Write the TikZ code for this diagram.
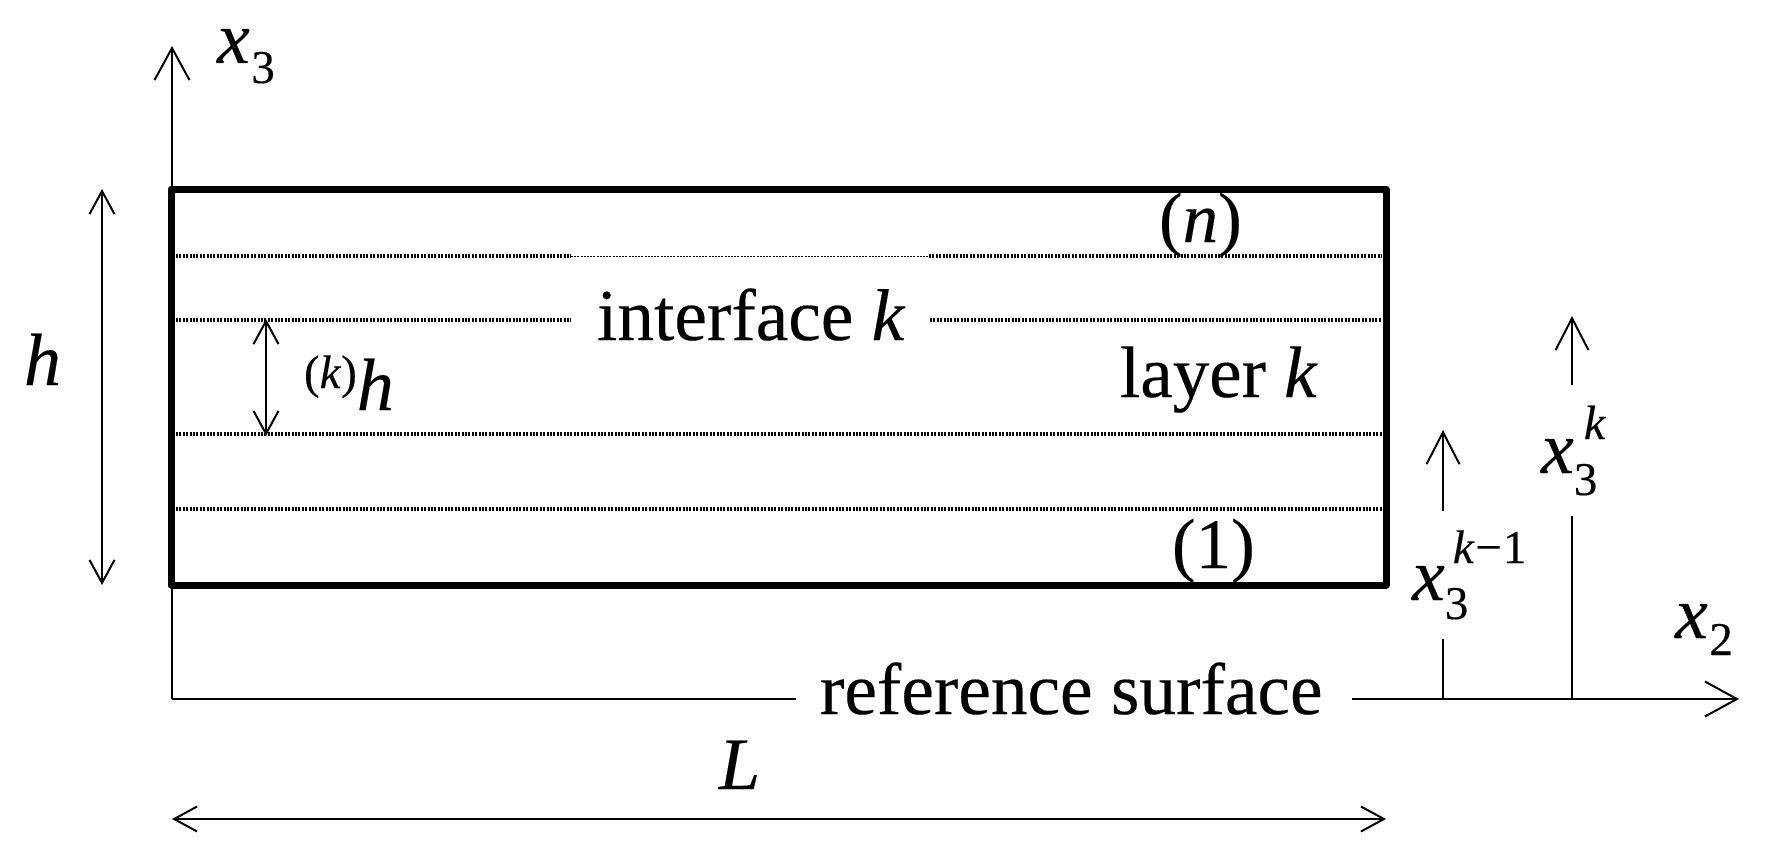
\documentclass[tikz,border=0pt]{standalone}
\usepackage{fontspec}
\setmainfont{Liberation Serif}[UprightFeatures={FakeBold=0.25},ItalicFeatures={FakeBold=0.25}]
\usetikzlibrary{arrows.meta}
\newcommand{\fs}[1]{\fontsize{#1pt}{#1pt}\selectfont}
\newcommand{\lowidx}[2]{\raisebox{#1pt}{\fs{47}#2}}
\tikzset{
  x=1pt,y=-1pt,
  lbl/.style={anchor=base west,inner sep=0pt,outer sep=0pt,font=\fs{74}},
  thinline/.style={line width=2pt,black},
  bigtip/.style={thinline,-{Straight Barb[length=32pt,width=35pt,line width=2pt]}},
  midtip/.style={thinline,{Straight Barb[length=23pt,width=25pt,line width=2pt]}-{Straight Barb[length=23pt,width=25pt,line width=2pt]}},
  uptip/.style={thinline,-{Straight Barb[length=32pt,width=33pt,line width=2pt]}},
  iface/.style={line width=3.2pt,dash pattern=on 2pt off 1.4pt},
  ifacethin/.style={line width=1pt,dash pattern=on 2pt off 1.2pt},
  plate/.style={draw,line width=7pt,line join=round,inner sep=0pt,outer sep=0pt,minimum width=1215pt,minimum height=396pt},
}
\begin{document}
\begin{tikzpicture}
\useasboundingbox (0,0) rectangle (1768,864);
% coordinates
\coordinate (o) at (172,699);
\coordinate (ytop) at (172,46);
\coordinate (xgapl) at (796,699);
\coordinate (xgapr) at (1352,699);
\coordinate (xtip) at (1739,699);
\coordinate (ht) at (102,189);
\coordinate (hb) at (102,585);
\coordinate (kt) at (266,319);
\coordinate (kb) at (266,436);
\coordinate (Ll) at (172,819);
\coordinate (Lr) at (1386,819);
\coordinate (a1) at (1443,699);
\coordinate (a2) at (1443,639);
\coordinate (a3) at (1443,511);
\coordinate (a4) at (1443,430);
\coordinate (b1) at (1572,699);
\coordinate (b2) at (1572,516);
\coordinate (b3) at (1572,385);
\coordinate (b4) at (1572,316);
\foreach \n/\y in {A/256,B/320,C/434,D/509}{
  \coordinate (\n l) at (176,\y);
  \coordinate (\n r) at (1382,\y);
}
\coordinate (Agl) at (571,256);
\coordinate (Agr) at (929,256);
\coordinate (Bgl) at (571,320);
\coordinate (Bgr) at (930,320);
% axes
\draw[bigtip] (o) -- (ytop);
\draw[thinline] (o) -- (xgapl);
\draw[bigtip] (xgapr) -- (xtip);
% plate
\node[plate] (plate) at (778.5,387) {};
% interfaces
\draw[iface] (Al) -- (Agl);
\draw[ifacethin] (Agl) -- (Agr);
\draw[iface] (Agr) -- (Ar);
\draw[iface] (Bl) -- (Bgl);
\draw[iface] (Bgr) -- (Br);
\draw[iface] (Cl) -- (Cr);
\draw[iface] (Dl) -- (Dr);
% dimensions
\draw[midtip] (hb) -- (ht);
\draw[midtip] (kb) -- (kt);
\draw[midtip] (Ll) -- (Lr);
% reference heights
\draw[thinline] (a1) -- (a2);
\draw[uptip] (a3) -- (a4);
\draw[thinline] (b1) -- (b2);
\draw[uptip] (b3) -- (b4);
% labels
\node[lbl] (lx3) at (217,63) {\textit{x}\kern1.5pt\lowidx{-20}{3}};
\node[lbl] (lh) at (24,385) {\textit{h}};
\node[lbl] (lkh) at (304,410) {\raisebox{22pt}{\fs{47}(\textit{k})}\textit{h}};
\node[lbl] (lif) at (597,340) {\fs{73.3}interface \textit{k}};
\node[lbl] (ln) at (1159,242) {\fs{71}(\textit{n})};
\node[lbl] (llay) at (1120,397) {\fs{73}layer \textit{k}};
\node[lbl] (lone) at (1172,568) {\fs{71}(1)};
\node[lbl] (lxk) at (1541,473) {\textit{x}\rlap{\lowidx{-22}{3}}\kern10pt\raisebox{34pt}{\fs{48}\textit{k}}};
\node[lbl] (lxk1) at (1412,600) {\textit{x}\rlap{\lowidx{-19}{3}}\kern8pt\raisebox{37pt}{\fs{47}\textit{k}\kern1pt\char"2212\kern1pt 1}};
\node[lbl] (lx2) at (1675,638) {\textit{x}\kern1.5pt\lowidx{-17}{2}};
\node[lbl] (lref) at (820,714) {\fs{73.3}reference surface};
\node[lbl] (lL) at (719,789) {\textit{L}};
\end{tikzpicture}
\end{document}
